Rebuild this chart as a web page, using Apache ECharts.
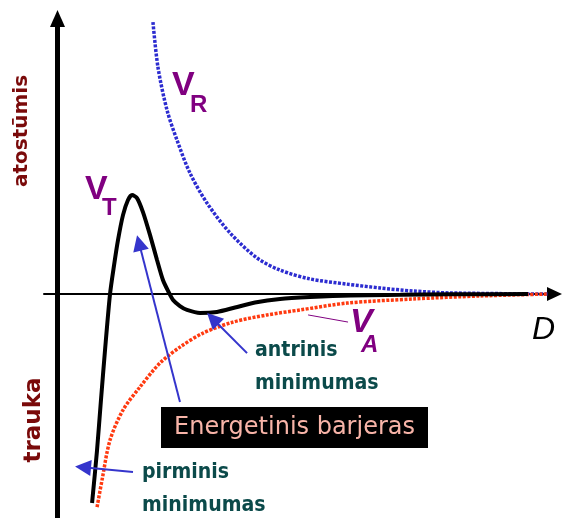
<!DOCTYPE html>
<html>
<head>
<meta charset="utf-8">
<script src="https://cdn.jsdelivr.net/npm/echarts@6/dist/echarts.min.js"></script>
<style>
  html, body { margin: 0; padding: 0; background: #fff; }
  #main { width: 563px; height: 518px; }
</style>
</head>
<body>
<div id="main"></div>
<script>
// curves: [D, energy]
var totalCurve = [
  [2.56, -7.6], [2.93, -5.67], [3.22, -3.85], [3.52, -2.04], [3.89, 0],
  [4.19, 1.05], [4.48, 1.96], [4.85, 2.87], [5.22, 3.42], [5.52, 3.6],
  [5.89, 3.49], [6.33, 2.98], [6.85, 2.15], [7.37, 1.24], [7.81, 0.51],
  [8.19, 0.11], [8.56, -0.22], [9.07, -0.44], [9.59, -0.58], [10.56, -0.69],
  [11.81, -0.65], [13.15, -0.49], [14.63, -0.31], [16.48, -0.18],
  [18.7, -0.11], [21.7, -0.05], [25.4, -0.03], [29.07, -0.01], [34.85, 0]
];
var repulsion = [
  [7.07, 9.89], [7.44, 8.25], [8.11, 6.69], [8.85, 5.6], [9.81, 4.4],
  [11.07, 3.31], [12.78, 2.22], [14.78, 1.31], [16.48, 0.87], [18.7, 0.55],
  [21.44, 0.36], [23.89, 0.22], [26.33, 0.11], [29.07, 0.04], [36.33, 0]
];
var attraction = [
  [2.93, -7.75], [3.3, -6.76], [3.89, -5.31], [4.85, -4.22], [6.11, -3.38],
  [7.59, -2.51], [9.07, -1.93], [10.78, -1.42], [13.0, -1.02], [15.52, -0.76],
  [17.96, -0.58], [21.44, -0.33], [26.33, -0.18], [31.3, -0.07], [36.33, 0]
];
// annotation arrows: from label towards the curve
var arrows = [
  [[9.07, -3.93], [6.04, 1.86]],   // energetinis barjeras
  [[14.04, -2.15], [11.5, -0.9]],  // antrinis minimumas
  [[5.59, -6.47], [1.89, -6.3]]    // pirminis minimumas
];
var vaPointer = [[18.56, -0.76], [21.52, -1.02]];

var chart = echarts.init(document.getElementById('main'), null, { renderer: 'canvas' });

var sans = 'DejaVu Sans';
var arial = 'Liberation Sans';
var teal = '#0b4a4a';
var maroon = '#7a0a0a';
var purple = '#800080';

function txt(x, y, text, size, weight, family, fill, extra) {
  var o = {
    type: 'text', x: x, y: y, z: 100,
    style: {
      text: text, fontSize: size, fontWeight: weight, fontFamily: family,
      fontStyle: 'normal', fill: fill,
      align: 'left', textAlign: 'left',
      verticalAlign: 'middle', textVerticalAlign: 'middle'
    }
  };
  if (extra) {
    for (var k in extra) {
      if (k === 'style') {
        for (var s in extra.style) o.style[s] = extra.style[s];
      } else o[k] = extra[k];
    }
  }
  return o;
}

var centered = { style: { align: 'center', textAlign: 'center' } };
var italic = { style: { fontStyle: 'italic' } };
var tall = { scaleY: 1.12 };

var option = {
  animation: false,
  grid: { left: 44, right: 8.5, top: 18.5, bottom: 0 },
  xAxis: {
    type: 'value', min: -1, max: 36.81,
    axisLine: {
      onZero: true,
      symbol: ['none', 'triangle'], symbolSize: [14, 15],
      lineStyle: { color: '#000', width: 2 }
    },
    axisTick: { show: false }, axisLabel: { show: false }, splitLine: { show: false }
  },
  yAxis: {
    type: 'value', min: -8.145, max: 10.02,
    axisLine: {
      onZero: true,
      symbol: ['none', 'triangle'], symbolSize: [15, 17],
      lineStyle: { color: '#000', width: 5 }
    },
    axisTick: { show: false }, axisLabel: { show: false }, splitLine: { show: false }
  },
  series: [
    {
      name: 'VR', type: 'line', data: repulsion, smooth: 0.3, showSymbol: false,
      lineStyle: { color: '#2c2cd0', width: 3.5, type: [3, 1.5] }, z: 3
    },
    {
      name: 'VA', type: 'line', data: attraction, smooth: 0.3, showSymbol: false,
      lineStyle: { color: '#ff3a10', width: 3.5, type: [3, 1.5] }, z: 3
    },
    {
      name: 'VT', type: 'line', data: totalCurve, smooth: 0.25, showSymbol: false,
      lineStyle: { color: '#000', width: 4 }, z: 4
    },
    {
      type: 'lines', coordinateSystem: 'cartesian2d', z: 5,
      symbol: ['none', 'triangle'], symbolSize: [15, 16],
      lineStyle: { color: '#3535cc', width: 2, opacity: 1, curveness: 0 },
      data: arrows.map(function (a) { return { coords: a }; })
    },
    {
      type: 'lines', coordinateSystem: 'cartesian2d', z: 5,
      symbol: ['none', 'none'],
      lineStyle: { color: purple, width: 1, opacity: 1 },
      data: [{ coords: vaPointer }]
    }
  ],
  graphic: [
    txt(22, 131, 'atostūmis', 20, 'bold', sans, maroon,
      { rotation: Math.PI / 2, style: { align: 'center', textAlign: 'center' } }),
    txt(34, 420, 'trauka', 23, 'bold', sans, maroon,
      { rotation: Math.PI / 2, style: { align: 'center', textAlign: 'center' } }),
    txt(172, 86, 'V', 34, 'bold', arial, purple),
    txt(190, 105, 'R', 24, 'bold', arial, purple),
    txt(85, 190, 'V', 34, 'bold', arial, purple),
    txt(102, 208, 'T', 24, 'bold', arial, purple),
    txt(350, 323, 'V', 34, 'bold', arial, purple, italic),
    txt(361, 345, 'A', 24, 'bold', arial, purple, italic),
    txt(532, 330, 'D', 32, 'normal', arial, '#000', italic),
    txt(255, 350, 'antrinis', 19, 'bold', sans, teal, tall),
    txt(255, 383, 'minimumas', 19, 'bold', sans, teal, tall),
    txt(142, 472, 'pirminis', 19, 'bold', sans, teal, tall),
    txt(142, 505, 'minimumas', 19, 'bold', sans, teal, tall),
    {
      type: 'rect', z: 99,
      shape: { x: 161, y: 407, width: 267, height: 41 },
      style: { fill: '#000' }
    },
    txt(294.5, 428, 'Energetinis barjeras', 24, 'normal', sans, '#f8b4a8', centered)
  ]
};

chart.setOption(option);
</script>
</body>
</html>
